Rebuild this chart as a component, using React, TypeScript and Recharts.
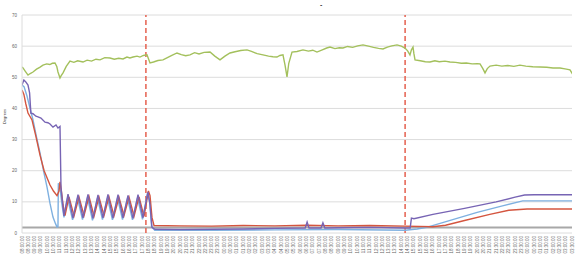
import React from 'react';
import { LineChart, Line, XAxis, YAxis, CartesianGrid, ReferenceLine } from 'recharts';

const timeLabels: string[] = [
  '08:00:00','08:30:00','09:00:00','09:30:00','10:00:00','10:30:00','11:00:00','11:30:00',
  '12:00:00','12:30:00','13:00:00','13:30:00','14:00:00','14:30:00','15:00:00','15:30:00',
  '16:00:00','16:30:00','17:00:00','17:30:00','18:00:00','18:30:00','19:00:00','19:30:00',
  '20:00:00','20:30:00','21:00:00','21:30:00','22:00:00','22:30:00','23:00:00','23:30:00',
  '00:00:00','00:30:00','01:00:00','01:30:00','02:00:00','02:30:00','03:00:00','03:30:00',
  '04:00:00','04:30:00','05:00:00','05:30:00','06:00:00','06:30:00','07:00:00','07:30:00',
  '08:00:00','08:30:00','09:00:00','09:30:00','10:00:00','10:30:00','11:00:00','11:30:00',
  '12:00:00','12:30:00','13:00:00','13:30:00','14:00:00','14:30:00','15:00:00','15:30:00',
  '16:00:00','16:30:00','17:00:00','17:30:00','18:00:00','18:30:00','19:00:00','19:30:00',
  '20:00:00','20:30:00','21:00:00','21:30:00','22:00:00','22:30:00','23:00:00','23:30:00',
  '00:00:00','00:30:00','01:00:00','01:30:00','02:00:00','02:30:00','03:00:00','03:30:00',
];

const yTicks: number[] = [0, 10, 20, 30, 40, 50, 60, 70];
const markers: number[] = [19.6, 60.6];

const ambient: [number, number][] = [
  [0,53.3],[0.16,53.0],[0.5,52.0],[0.95,50.7],[1.3,51.2],[1.74,51.7],[2.3,52.6],[2.8,53.2],[3.32,53.9],[3.9,54.3],
  [4.4,54.1],[4.8,54.5],[5.22,54.6],[5.5,53.5],[5.69,51.7],[6.01,49.8],[6.2,50.5],[6.49,51.4],[7.0,53.5],[7.59,55.2],
  [8.2,54.8],[8.8,55.3],[9.65,54.9],[10.3,55.5],[11.0,55.2],[11.7,55.8],[12.34,55.6],[13.1,56.3],[13.92,56.2],[14.6,55.8],
  [15.3,56.1],[15.98,55.9],[16.6,56.5],[17.08,56.2],[17.56,56.5],[18.2,56.8],[18.66,56.5],[19.2,57.0],[19.77,57.2],[20.25,54.6],
  [20.8,54.9],[21.5,55.4],[22.3,55.6],[23.0,56.3],[23.7,57.0],[24.52,57.8],[25.2,57.3],[25.9,56.9],[26.57,57.2],[27.3,57.9],
  [28.0,57.5],[28.8,58.0],[29.74,58.1],[30.5,56.8],[31.32,55.6],[32.1,56.8],[32.9,57.8],[33.7,58.2],[34.6,58.6],[35.59,58.8],
  [36.3,58.3],[37.2,57.6],[38.12,57.2],[39.0,56.8],[39.7,56.6],[40.33,56.5],[40.8,57.0],[41.28,57.2],[41.6,54.0],[41.92,50.1],
  [42.2,54.5],[42.71,58.1],[43.5,58.3],[44.45,58.8],[45.3,58.4],[46.0,58.7],[46.66,58.1],[47.5,58.8],[48.2,59.4],[48.72,59.7],
  [49.5,59.2],[50.2,59.5],[50.78,59.4],[51.5,59.9],[52.3,59.6],[53.1,60.1],[53.94,60.4],[54.8,60.0],[55.6,59.6],[56.4,59.3],
  [57.1,59.1],[57.8,59.7],[58.5,60.1],[59.32,60.4],[60.0,60.0],[60.58,59.4],[61.0,58.5],[61.37,57.2],[61.6,58.8],[61.85,59.7],
  [62.0,57.5],[62.17,55.6],[63.0,55.3],[63.8,55.0],[64.54,54.9],[65.3,55.3],[66.0,55.0],[66.9,55.2],[67.7,54.9],[68.6,54.8],
  [69.5,54.5],[70.3,54.6],[71.2,54.3],[72.0,54.4],[72.45,54.3],[72.9,52.8],[73.24,51.4],[73.6,52.8],[74.03,53.6],[75.0,53.9],
  [75.9,53.6],[76.8,53.8],[77.8,53.5],[78.77,53.9],[79.7,53.6],[80.8,53.4],[81.94,53.3],[83.0,53.2],[84.0,53.0],[85.1,53.0],
  [85.9,52.7],[86.68,52.4],[87.1,51.0],[87.47,49.1],
];

const probeBlue: [number, number][] = [
  [0,47.5],[0.32,47.0],[0.79,44.0],[1.27,40.0],[1.74,36.3],[2.3,30.8],[2.85,25.7],[3.4,20.0],[3.95,14.8],[4.43,9.5],
  [4.9,5.1],[5.3,3.0],[5.54,1.9],[5.69,2.0],[5.75,16.0],[6.0,14.5],[6.3,9.5],[6.64,5.0],[7.2,11.3],[8.0,4.2],
  [8.78,11.2],[9.57,4.3],[10.36,11.4],[11.15,4.1],[11.94,11.2],[12.73,4.3],[13.52,11.3],[14.31,4.2],[15.11,11.2],[15.9,4.3],
  [16.69,11.1],[17.48,4.2],[18.27,11.3],[19.06,4.4],[19.85,12.8],[20.2,10.0],[20.5,2.0],[21.0,0.9],[30,0.9],[40,1.0],
  [50,1.1],[60.6,0.9],[62.5,1.3],[64,1.8],[68,4.2],[72,6.6],[76,8.7],[79.2,10.3],[87.5,10.3],
];

const probeRed: [number, number][] = [
  [0,45.9],[0.3,44.5],[0.6,41.5],[0.95,38.5],[1.58,36.3],[2.2,31.0],[2.85,25.0],[3.5,20.0],[4.43,15.4],[5.0,13.4],
  [5.54,12.0],[5.85,13.5],[6.01,16.4],[6.2,14.0],[6.49,9.0],[6.8,5.6],[7.43,11.6],[8.23,5.5],[9.02,11.5],[9.81,5.6],
  [10.6,11.7],[11.39,5.4],[12.18,11.5],[12.97,5.6],[13.76,11.6],[14.55,5.5],[15.34,11.4],[16.13,5.6],[16.93,11.5],[17.72,5.4],
  [18.51,11.6],[19.3,5.3],[20.0,13.5],[20.25,12.0],[20.56,5.0],[20.88,2.4],[25,2.3],[30,2.2],[35,2.4],[40,2.3],
  [45,2.5],[50,2.3],[55,2.4],[60.6,2.2],[65,2.0],[67,2.5],[70,4.0],[74,6.0],[77,7.3],[79.9,7.7],[87.5,7.7],
];

const probePurple: [number, number][] = [
  [0,47.5],[0.3,49.1],[0.6,48.5],[0.95,47.5],[1.2,45.0],[1.4,38.5],[1.74,38.3],[2.2,37.5],[2.53,37.3],[3.0,36.9],
  [3.64,35.6],[4.1,35.4],[4.43,35.0],[4.9,34.0],[5.38,34.7],[5.69,33.7],[6.01,34.2],[6.17,14.5],[6.64,5.5],[7.28,12.5],
  [8.07,4.8],[8.86,12.3],[9.65,4.9],[10.44,12.4],[11.23,4.7],[12.02,12.2],[12.81,4.9],[13.6,12.4],[14.39,4.8],[15.19,12.3],
  [15.98,4.9],[16.77,12.1],[17.56,4.7],[18.35,12.3],[19.14,4.9],[19.93,13.2],[20.25,9.0],[20.56,1.8],[21.04,1.2],[25,1.1],
  [30,1.2],[35,1.3],[40,1.5],[44.8,1.6],[45.1,3.5],[45.4,1.6],[47.3,1.6],[47.6,3.3],[47.9,1.6],[50,1.7],
  [55,1.8],[60.6,1.6],[61.4,1.6],[61.6,4.8],[62.0,4.6],[65,6.0],[70,7.9],[75,10.0],[78,11.5],[79.5,12.2],
  [81,12.3],[87.5,12.3],
];

const toPts = (arr: [number, number][]) => arr.map(([u, v]) => ({ u, v }));

const xTickValues = timeLabels.map((_, i) => i);

const XTick = (props: any) => {
  const { x, y, payload } = props;
  const yy = y + 1;
  return (
    <text
      x={x}
      y={yy}
      transform={`rotate(-90 ${x} ${yy})`}
      textAnchor="end"
      dominantBaseline="central"
      fontSize={4.5}
      fill="#666"
      fontFamily="Liberation Sans, Arial, sans-serif"
    >
      {timeLabels[payload.value]}
    </text>
  );
};

export default function App() {
  return (
    <div style={{ position: 'absolute', left: 0, top: 0, width: 578, height: 257, background: '#fff' }}>
      <div
        style={{
          position: 'absolute', left: 320, top: 0, fontSize: 7, fontWeight: 'bold', color: '#444',
          fontFamily: 'Liberation Sans, Arial, sans-serif', lineHeight: '10px',
        }}
      >
        -
      </div>
      <LineChart
        width={578}
        height={257}
        margin={{ top: 15, right: 6, left: 0, bottom: 0 }}
        style={{ fontFamily: 'Liberation Sans, Arial, sans-serif' }}
      >
        <CartesianGrid vertical={false} stroke="#dcdcdc" strokeWidth={1} />
        <XAxis
          dataKey="u"
          type="number"
          domain={[0, 87]}
          ticks={xTickValues}
          interval={0}
          tick={<XTick />}
          tickLine={false}
          axisLine={false}
          tickSize={0}
          tickMargin={2}
          height={24}
          allowDataOverflow
        />
        <YAxis
          type="number"
          domain={[0, 70]}
          ticks={yTicks}
          width={22}
          tickLine={false}
          tickSize={3}
          tickMargin={2}
          axisLine={{ stroke: '#dcdcdc' }}
          tick={{ fontSize: 4.5, fill: '#666' }}
          label={{ value: 'Degrees', angle: -90, position: 'insideLeft', offset: 5, fontSize: 4, fill: '#333' }}
        />
        <ReferenceLine y={1.8} stroke="#a8a8a8" strokeWidth={2} />
        {markers.map((m) => (
          <ReferenceLine key={m} x={m} stroke="#e5604f" strokeWidth={1.5} strokeDasharray="5 3" />
        ))}
        <Line data={toPts(ambient)} dataKey="v" type="linear" stroke="#a3c05c" strokeWidth={1.4} dot={false} isAnimationActive={false} />
        <Line data={toPts(probeBlue)} dataKey="v" type="linear" stroke="#7eb0e0" strokeWidth={1.4} dot={false} isAnimationActive={false} />
        <Line data={toPts(probeRed)} dataKey="v" type="linear" stroke="#d4553f" strokeWidth={1.4} dot={false} isAnimationActive={false} />
        <Line data={toPts(probePurple)} dataKey="v" type="linear" stroke="#7764b4" strokeWidth={1.4} dot={false} isAnimationActive={false} />
      </LineChart>
    </div>
  );
}
